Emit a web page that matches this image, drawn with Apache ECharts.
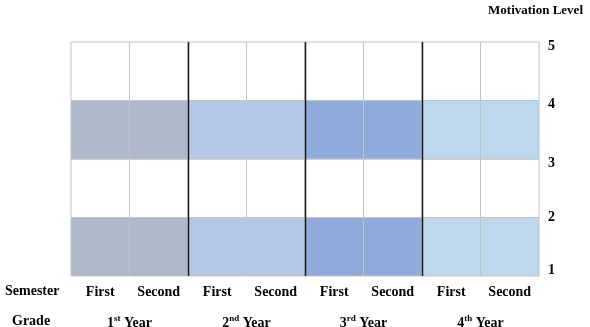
<!DOCTYPE html>
<html>
<head>
<meta charset="utf-8">
<script src="https://cdn.jsdelivr.net/npm/echarts@6/dist/echarts.min.js"></script>
<style>
  html, body { margin: 0; padding: 0; background: #fff; }
  #chart { width: 590px; height: 327px; }
</style>
</head>
<body>
<div id="chart"></div>
<script>
// data
var semesters = ["First", "Second", "First", "Second", "First", "Second", "First", "Second"];
var yearOfSemester = [0, 0, 1, 1, 2, 2, 3, 3];
var yearNums = ["1", "2", "3", "4"];
var yearSuffix = ["st", "nd", "rd", "th"];
var yearColors = ["#adb9ca", "#b4c7e7", "#8faadc", "#bdd7ee"];
// level rows: [low, high, shaded?]
var levelRows = [[1, 2, 1], [2, 3, 0], [3, 4, 1], [4, 5, 0]];
var levelTicks = [1, 2, 3, 4, 5];

var FONT = "Liberation Serif";

// build cells
var cells = [];
for (var i = 0; i < semesters.length; i++) {
  for (var r = 0; r < levelRows.length; r++) {
    cells.push([i, levelRows[r][0], levelRows[r][1], levelRows[r][2] ? yearOfSemester[i] : -1]);
  }
}
// year dividers: after last semester of each year except the final one
var dividers = [];
for (var i = 0; i < semesters.length - 1; i++) {
  if (yearOfSemester[i] !== yearOfSemester[i + 1]) dividers.push([i, levelTicks[0], levelTicks[levelTicks.length - 1]]);
}

var labelBase = { fontFamily: FONT, fontWeight: "bold", fontSize: 14, color: "#000" };

var chart = echarts.init(document.getElementById("chart"));
chart.setOption({
  animation: false,
  grid: { left: 71, right: 51, top: 42, bottom: 51, outerBoundsMode: "none", containLabel: false },
  xAxis: [
    {
      type: "category",
      data: semesters,
      position: "bottom",
      axisLine: { show: false },
      axisTick: { show: false },
      splitLine: { show: false },
      axisLabel: { interval: 0, margin: 9, fontFamily: FONT, fontWeight: "bold", fontSize: 14, color: "#000" }
    },
    {
      type: "category",
      data: yearNums.map(function (n, k) { return n + "|" + yearSuffix[k]; }),
      position: "bottom",
      offset: 30,
      axisLine: { show: false },
      axisTick: { show: false },
      splitLine: { show: false },
      axisLabel: {
        interval: 0,
        margin: 8,
        formatter: function (v) {
          var p = v.split("|");
          return "{a|" + p[0] + "}{s|" + p[1] + "}{a| Year}";
        },
        rich: {
          a: { fontFamily: FONT, fontWeight: "bold", fontSize: 14, color: "#000", lineHeight: 16, verticalAlign: "bottom" },
          s: { fontFamily: FONT, fontWeight: "bold", fontSize: 9, color: "#000", lineHeight: 16, verticalAlign: "top", padding: [0, 0, 5, 0] }
        }
      }
    }
  ],
  yAxis: {
    type: "value",
    position: "right",
    min: 1,
    max: 5,
    interval: 1,
    axisLine: { show: false },
    axisTick: { show: false },
    splitLine: { show: false },
    axisLabel: {
      margin: 9,
      formatter: function (v) {
        if (v === 1) return "{up|" + v + "}";
        if (v === 2) return "{n|" + v + "}";
        return "{dn|" + v + "}";
      },
      rich: {
        n: labelBase,
        dn: Object.assign({ padding: [8, 0, 0, 0] }, labelBase),
        up: Object.assign({ padding: [0, 0, 12, 0] }, labelBase)
      }
    }
  },
  graphic: [
    { type: "text", right: 7, top: 4, style: { text: "Motivation Level", font: "bold 13px '" + FONT + "'", fill: "#000" } },
    { type: "text", left: 5, top: 284, style: { text: "Semester", font: "bold 14px '" + FONT + "'", fill: "#000" } },
    { type: "text", left: 12, top: 314, style: { text: "Grade", font: "bold 14px '" + FONT + "'", fill: "#000" } }
  ],
  series: [
    {
      type: "custom",
      xAxisIndex: 0,
      data: cells,
      encode: { x: 0, y: [1, 2] },
      renderItem: function (params, api) {
        var lo = api.coord([api.value(0), api.value(1)]);
        var hi = api.coord([api.value(0), api.value(2)]);
        var w = api.size([1, 0])[0];
        var yr = api.value(3);
        return {
          type: "rect",
          shape: { x: lo[0] - w / 2, y: hi[1], width: w, height: lo[1] - hi[1] },
          style: { fill: yr >= 0 ? yearColors[yr] : "#ffffff", stroke: "#c3c3c3", lineWidth: 1 }
        };
      }
    },
    {
      type: "custom",
      xAxisIndex: 0,
      data: dividers,
      encode: { x: 0, y: [1, 2] },
      z: 5,
      renderItem: function (params, api) {
        var lo = api.coord([api.value(0), api.value(1)]);
        var hi = api.coord([api.value(0), api.value(2)]);
        var w = api.size([1, 0])[0];
        var x = Math.round(lo[0] + w / 2) + 0.5;
        return {
          type: "line",
          shape: { x1: x, y1: hi[1], x2: x, y2: lo[1] },
          style: { stroke: "#1a1a1a", lineWidth: 1.5 }
        };
      }
    }
  ]
});
</script>
</body>
</html>
